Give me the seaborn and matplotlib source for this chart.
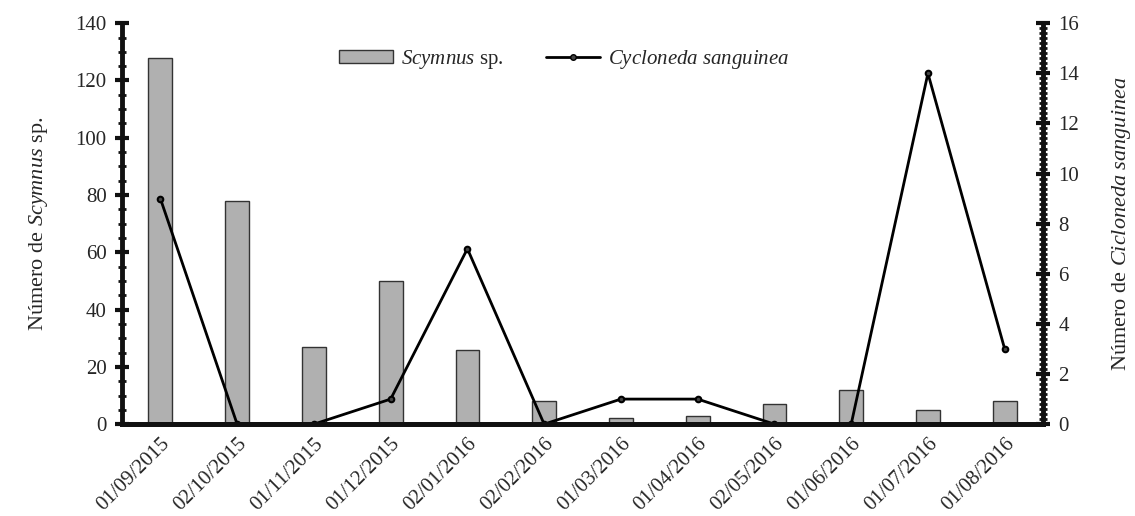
import matplotlib
matplotlib.use("Agg")
import matplotlib.pyplot as plt
import seaborn as sns
import pandas as pd
from matplotlib.ticker import MultipleLocator
from matplotlib.patches import Patch
from matplotlib.lines import Line2D

# Data
dates = ['01/09/2015', '02/10/2015', '01/11/2015', '01/12/2015', '02/01/2016', '02/02/2016',
         '01/03/2016', '01/04/2016', '02/05/2016', '01/06/2016', '01/07/2016', '01/08/2016']
scymnus = [128, 78, 27, 50, 26, 8, 2, 3, 7, 12, 5, 8]
cycloneda = [9, 0, 0, 1, 7, 0, 1, 1, 0, 0, 14, 3]

df = pd.DataFrame({'date': dates, 'scymnus': scymnus, 'cycloneda': cycloneda})

sns.set_style("white")
plt.rcParams['font.family'] = ['Liberation Serif', 'DejaVu Serif']
plt.rcParams['mathtext.fontset'] = 'custom'
plt.rcParams['mathtext.rm'] = 'Liberation Serif'
plt.rcParams['mathtext.it'] = 'Liberation Serif:italic'

fig = plt.figure(figsize=(11.35, 5.16), dpi=100)
ax = fig.add_axes([0.1075, 0.178, 0.8115, 0.777])

sns.barplot(data=df, x='date', y='scymnus', color='#b0b0b0', edgecolor='#333333',
            linewidth=1, width=0.31, saturation=1, ax=ax)

ax2 = ax.twinx()
sns.pointplot(data=df, x='date', y='cycloneda', color='black', markers='o',
              markersize=4, linewidth=2, ax=ax2)
for ln in ax2.lines:
    ln.set_markerfacecolor('#444444')
    ln.set_markeredgecolor('black')

ax.set_xlim(-0.5, 11.5)
ax.set_ylim(0, 140)
ax2.set_ylim(0, 16)
ax.yaxis.set_major_locator(MultipleLocator(20))
ax.yaxis.set_minor_locator(MultipleLocator(5))
ax2.yaxis.set_major_locator(MultipleLocator(2))
ax2.yaxis.set_minor_locator(MultipleLocator(0.2))

for a in (ax, ax2):
    a.spines['top'].set_visible(False)
    for s in ('left', 'right', 'bottom'):
        a.spines[s].set_linewidth(3.5)
        a.spines[s].set_color('#111111')
    a.set_xlabel('')

ax.spines['right'].set_visible(False)
ax2.spines['left'].set_visible(False)

ax.tick_params(axis='y', which='major', direction='inout', length=10, width=3, labelsize=15, pad=6, color='#111111')
ax.tick_params(axis='y', which='minor', direction='inout', length=6, width=2, color='#111111')
ax2.tick_params(axis='y', which='major', direction='inout', length=10, width=3, labelsize=15, pad=6, color='#111111')
ax2.tick_params(axis='y', which='minor', direction='inout', length=6, width=2, color='#111111')
ax.tick_params(axis='x', which='major', direction='out', length=4, width=2, labelsize=15, color='#111111')
ax.tick_params(axis='x', which='minor', bottom=False)

ax.set_xticks(range(len(dates)))
ax.set_xticklabels(dates, rotation=45, ha='right', rotation_mode='anchor')

ax.set_ylabel(r'Número de $\it{Scymnus}$ sp.', fontsize=16, labelpad=18)
ax2.set_ylabel(r'Número de $\it{Cicloneda\ sanguinea}$', fontsize=16, labelpad=22)

handles = [Patch(facecolor='#b0b0b0', edgecolor='#333333', linewidth=1),
           Line2D([0], [0], color='black', lw=2, marker='o', markersize=4,
                  markerfacecolor='#444444')]
labels = [r'$\it{Scymnus}$ sp.', r'$\it{Cycloneda\ sanguinea}$']
ax2.legend(handles, labels, loc='upper center', bbox_to_anchor=(0.48, 0.985), ncol=2,
           frameon=False, fontsize=15, handlelength=2.6, handleheight=0.55,
           columnspacing=2.0, handletextpad=0.4)

fig.savefig('out.png', dpi=100)
